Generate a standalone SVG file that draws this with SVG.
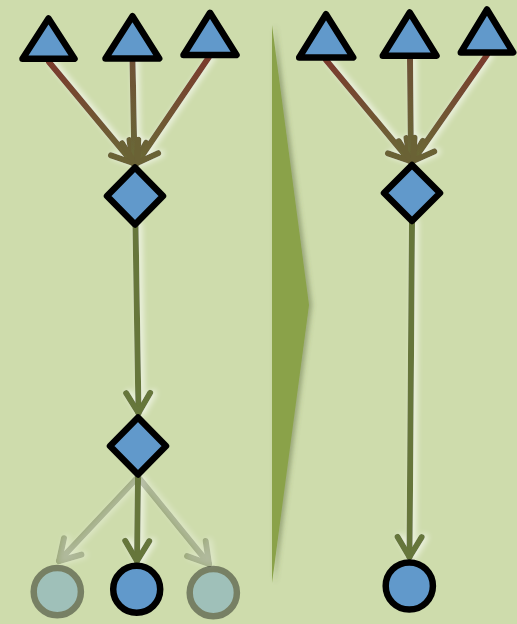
<svg xmlns="http://www.w3.org/2000/svg" width="517" height="624" viewBox="0 0 517 624">
<style>
.node{fill:#6199cb;stroke:#000;stroke-width:6.5;stroke-linejoin:round}
.faded{opacity:0.42}
.fadedline{opacity:0.5}
.edge{fill:none;stroke-width:6;stroke-linecap:round;stroke-linejoin:round}
.olive{stroke:#66763a}
</style>
<defs>
<filter id="glow" x="-50%" y="-20%" width="200%" height="140%">
<feGaussianBlur in="SourceAlpha" stdDeviation="3" result="b"/>
<feOffset in="b" dx="3" dy="0" result="o"/>
<feFlood flood-color="#ffffff" flood-opacity="0.75"/>
<feComposite in2="o" operator="in" result="g"/>
<feMerge><feMergeNode in="g"/><feMergeNode in="SourceGraphic"/></feMerge>
</filter>
<filter id="shadow" x="-50%" y="-10%" width="250%" height="120%">
<feGaussianBlur in="SourceAlpha" stdDeviation="2.5" result="b"/>
<feOffset in="b" dx="3" dy="0" result="o"/>
<feFlood flood-color="#55623a" flood-opacity="0.45"/>
<feComposite in2="o" operator="in" result="g"/>
<feMerge><feMergeNode in="g"/><feMergeNode in="SourceGraphic"/></feMerge>
</filter>
<marker id="ahO" markerUnits="userSpaceOnUse" markerWidth="40" markerHeight="40" viewBox="-30 -20 40 40" refX="0" refY="0" orient="auto">
<path d="M-20,-12 L0,0 L-20,12" fill="none" stroke="#66763a" stroke-width="6" stroke-linecap="round" stroke-linejoin="round"/>
</marker>
<marker id="ahB" markerUnits="userSpaceOnUse" markerWidth="40" markerHeight="40" viewBox="-30 -20 40 40" refX="0" refY="0" orient="auto">
<path d="M-20,-12 L0,0 L-20,12" fill="none" stroke="#6a6236" stroke-width="6" stroke-linecap="round" stroke-linejoin="round"/>
</marker>
<linearGradient id="g1" gradientUnits="userSpaceOnUse" x1="49" y1="62" x2="133" y2="163"><stop offset="0" stop-color="#7a3a2c"/><stop offset="1" stop-color="#6a6a37"/></linearGradient>
<linearGradient id="g2" gradientUnits="userSpaceOnUse" x1="132.5" y1="60" x2="134.5" y2="163"><stop offset="0" stop-color="#6e5036"/><stop offset="1" stop-color="#6a6a37"/></linearGradient>
<linearGradient id="g3" gradientUnits="userSpaceOnUse" x1="209" y1="57" x2="137" y2="163"><stop offset="0" stop-color="#7a3a2c"/><stop offset="1" stop-color="#6a6a37"/></linearGradient>
<linearGradient id="g4" gradientUnits="userSpaceOnUse" x1="326" y1="60" x2="410" y2="161"><stop offset="0" stop-color="#7a3a2c"/><stop offset="1" stop-color="#6a6a37"/></linearGradient>
<linearGradient id="g5" gradientUnits="userSpaceOnUse" x1="410" y1="58" x2="411" y2="161"><stop offset="0" stop-color="#6e5036"/><stop offset="1" stop-color="#6a6a37"/></linearGradient>
<linearGradient id="g6" gradientUnits="userSpaceOnUse" x1="487" y1="55" x2="413" y2="161"><stop offset="0" stop-color="#7a3a2c"/><stop offset="1" stop-color="#6a6a37"/></linearGradient>
</defs>
<rect width="517" height="624" fill="#cedcac"/>

<g id="transform-arrow" filter="url(#shadow)">
<polygon points="272,25 309,305 272,583" fill="#8aa24a"/>
</g>

<g id="connectors" filter="url(#glow)">
<line class="edge" stroke="url(#g1)" marker-end="url(#ahB)" x1="49" y1="62" x2="133" y2="163"/>
<line class="edge" stroke="url(#g2)" marker-end="url(#ahB)" x1="132.5" y1="60" x2="134.5" y2="163"/>
<line class="edge" stroke="url(#g3)" marker-end="url(#ahB)" x1="209" y1="57" x2="137" y2="163"/>
<line class="edge olive" marker-end="url(#ahO)" x1="135.5" y1="224" x2="138.5" y2="413"/>
<g class="fadedline">
<line class="edge olive" marker-end="url(#ahO)" x1="137" y1="478" x2="59" y2="561"/>
<line class="edge olive" marker-end="url(#ahO)" x1="139" y1="478" x2="209" y2="564"/>
</g>
<line class="edge olive" marker-end="url(#ahO)" x1="138" y1="478" x2="137" y2="561"/>
<line class="edge" stroke="url(#g4)" marker-end="url(#ahB)" x1="326" y1="60" x2="410" y2="161"/>
<line class="edge" stroke="url(#g5)" marker-end="url(#ahB)" x1="410" y1="58" x2="411" y2="161"/>
<line class="edge" stroke="url(#g6)" marker-end="url(#ahB)" x1="487" y1="55" x2="413" y2="161"/>
<line class="edge olive" marker-end="url(#ahO)" x1="412" y1="221" x2="409.5" y2="557"/>
</g>

<g id="t1"><polygon class="node" points="48.5,18.5 74.5,58.8 22.5,58.8"/></g>
<g id="t2"><polygon class="node" points="132.5,16.2 159.2,58.5 105.5,58.5"/></g>
<g id="t3"><polygon class="node" points="210,12.8 236.5,55 183.5,55"/></g>
<g id="d1"><polygon class="node" points="135,167.5 163,196 135,224.5 107,196"/></g>
<g id="d2"><polygon class="node" points="138,417.5 166,446 138,474.5 110,446"/></g>
<g id="c1" class="faded"><circle class="node" cx="57.3" cy="591.7" r="23.6"/></g>
<g id="c2"><circle class="node" cx="136.7" cy="589.3" r="23.5"/></g>
<g id="c3" class="faded"><circle class="node" cx="213.3" cy="592.7" r="23.6"/></g>

<g id="t4"><polygon class="node" points="326,14.2 353.2,57.5 299.2,57.5"/></g>
<g id="t5"><polygon class="node" points="409.7,12.5 436.5,55.8 382.8,55.8"/></g>
<g id="t6"><polygon class="node" points="487,9.5 513.2,52.5 460.8,52.5"/></g>
<g id="d3"><polygon class="node" points="412,165 440,193 412,221 384,193"/></g>
<g id="c4"><circle class="node" cx="409.3" cy="586" r="23.6"/></g>
</svg>
